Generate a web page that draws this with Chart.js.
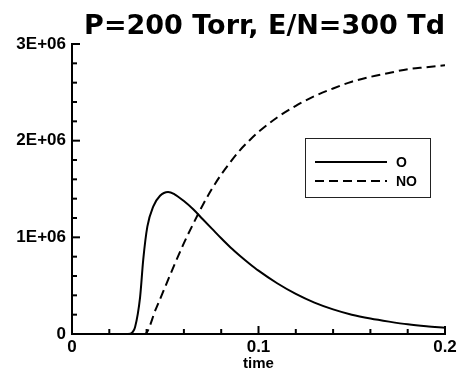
<!DOCTYPE html>
<html>
<head>
<meta charset="utf-8">
<script src="https://cdn.jsdelivr.net/npm/chart.js@4.4.1/dist/chart.umd.min.js"></script>
<style>
  html, body { margin: 0; padding: 0; background: #fff; }
  #wrap { width: 460px; height: 370px; }
</style>
</head>
<body>
<div id="wrap"><canvas id="chart" width="460" height="370"></canvas></div>
<script>
// O and NO density vs time
const timeO  = [0, 0.030, 0.0325, 0.0338, 0.0365, 0.0382, 0.0404, 0.0436, 0.0472, 0.0515, 0.055, 0.06, 0.065, 0.07, 0.075, 0.08, 0.085, 0.09, 0.095, 0.1, 0.11, 0.12, 0.13, 0.14, 0.15, 0.16, 0.17, 0.18, 0.19, 0.2];
const valueO = [0, 0, 0.02e6, 0.07e6, 0.38e6, 0.77e6, 1.11e6, 1.32e6, 1.43e6, 1.47e6, 1.445e6, 1.375e6, 1.29e6, 1.19e6, 1.09e6, 0.99e6, 0.895e6, 0.81e6, 0.73e6, 0.655e6, 0.525e6, 0.415e6, 0.325e6, 0.255e6, 0.20e6, 0.16e6, 0.128e6, 0.10e6, 0.08e6, 0.065e6];

const timeNO  = [0, 0.039, 0.045, 0.05, 0.055, 0.06, 0.065, 0.07, 0.075, 0.08, 0.085, 0.09, 0.095, 0.1, 0.11, 0.12, 0.13, 0.14, 0.15, 0.16, 0.17, 0.18, 0.19, 0.2];
const valueNO = [0, 0, 0.26e6, 0.49e6, 0.72e6, 0.94e6, 1.14e6, 1.33e6, 1.50e6, 1.65e6, 1.78e6, 1.90e6, 2.00e6, 2.09e6, 2.24e6, 2.36e6, 2.46e6, 2.54e6, 2.61e6, 2.66e6, 2.70e6, 2.74e6, 2.76e6, 2.78e6];

const xTicks = [0, 0.1, 0.2];
const yTicks = [0, 1e6, 2e6, 3e6];
const seriesLabels = ['O', 'NO'];

const toPoints = (xs, ys) => xs.map((x, i) => ({x: x, y: ys[i]}));

// ticks pointing into the plot, majors longer
const inwardTicks = {
  id: 'inwardTicks',
  afterDatasetsDraw(chart) {
    const ctx = chart.ctx, xs = chart.scales.x, ys = chart.scales.y;
    ctx.save();
    ctx.strokeStyle = '#000';
    ctx.lineWidth = 2;
    for (let i = 0; i <= 10; i++) {
      const px = xs.getPixelForValue(i * 0.02);
      const len = i % 5 === 0 ? 8 : 5;
      ctx.beginPath();
      ctx.moveTo(px, ys.bottom);
      ctx.lineTo(px, ys.bottom - len);
      ctx.stroke();
    }
    for (let i = 0; i <= 15; i++) {
      const py = ys.getPixelForValue(i * 2e5);
      const len = i % 5 === 0 ? 8 : 5;
      ctx.beginPath();
      ctx.moveTo(xs.left, py);
      ctx.lineTo(xs.left + len, py);
      ctx.stroke();
    }
    ctx.restore();
  }
};

// boxed legend inside the plot
const boxLegend = {
  id: 'boxLegend',
  afterDatasetsDraw(chart) {
    const ctx = chart.ctx, a = chart.chartArea;
    const bx = a.left + 233, by = a.top + 94, bw = 125, bh = 59;
    ctx.save();
    ctx.fillStyle = '#fff';
    ctx.fillRect(bx, by, bw, bh);
    ctx.strokeStyle = '#222';
    ctx.lineWidth = 1;
    ctx.strokeRect(bx + 0.5, by + 0.5, bw, bh);
    chart.data.datasets.forEach((ds, i) => {
      const ly = by + 24 + i * 19;
      ctx.strokeStyle = ds.borderColor;
      ctx.lineWidth = 2;
      ctx.setLineDash(ds.borderDash || []);
      ctx.beginPath();
      ctx.moveTo(bx + 10, ly);
      ctx.lineTo(bx + 82, ly);
      ctx.stroke();
      ctx.setLineDash([]);
      ctx.fillStyle = '#000';
      ctx.font = 'bold 14px "Liberation Sans", Arial, sans-serif';
      ctx.textBaseline = 'middle';
      ctx.fillText(ds.label, bx + 91, ly + 1);
    });
    ctx.restore();
  }
};

new Chart(document.getElementById('chart'), {
  type: 'line',
  data: {
    datasets: [
      {
        label: seriesLabels[0],
        data: toPoints(timeO, valueO),
        borderColor: '#000',
        borderWidth: 2,
        pointRadius: 0,
        cubicInterpolationMode: 'monotone'
      },
      {
        label: seriesLabels[1],
        data: toPoints(timeNO, valueNO),
        borderColor: '#000',
        borderWidth: 2,
        borderDash: [9, 5],
        pointRadius: 0,
        cubicInterpolationMode: 'monotone'
      }
    ]
  },
  options: {
    responsive: false,
    animation: false,
    layout: { padding: { left: 0, right: 15, top: 0, bottom: 0 } },
    plugins: {
      legend: { display: false },
      tooltip: { enabled: false },
      title: {
        display: true,
        text: 'P=200 Torr, E/N=300 Td',
        align: 'end',
        color: '#000',
        font: { family: '"DejaVu Sans"', weight: 'bold', size: 27 },
        padding: { top: 11, bottom: 0.6 }
      }
    },
    scales: {
      x: {
        type: 'linear',
        min: 0,
        max: 0.2,
        afterBuildTicks: s => { s.ticks = xTicks.map(v => ({value: v})); },
        afterFit: s => { s.height = 36; },
        grid: { display: false, drawTicks: false },
        border: { display: true, color: '#000', width: 2 },
        ticks: {
          color: '#000',
          padding: 3,
          autoSkip: false,
          maxRotation: 0,
          font: { family: '"Liberation Sans", Arial', weight: 'bold', size: 17 },
          callback: v => v === 0 ? '0' : v.toFixed(1)
        },
        title: {
          display: true,
          text: 'time',
          color: '#000',
          padding: { top: 0, bottom: -3 },
          font: { family: '"Liberation Sans", Arial', weight: 'bold', size: 15 }
        }
      },
      y: {
        min: 0,
        max: 3e6,
        afterBuildTicks: s => { s.ticks = yTicks.map(v => ({value: v})); },
        afterFit: s => { s.width = 72; },
        grid: { display: false, drawTicks: false },
        border: { display: true, color: '#000', width: 2 },
        ticks: {
          color: '#000',
          padding: 6,
          font: { family: '"Liberation Sans", Arial', weight: 'bold', size: 17 },
          callback: v => v === 0 ? '0' : (v / 1e6) + 'E+06'
        }
      }
    }
  },
  plugins: [inwardTicks, boxLegend]
});
</script>
</body>
</html>
